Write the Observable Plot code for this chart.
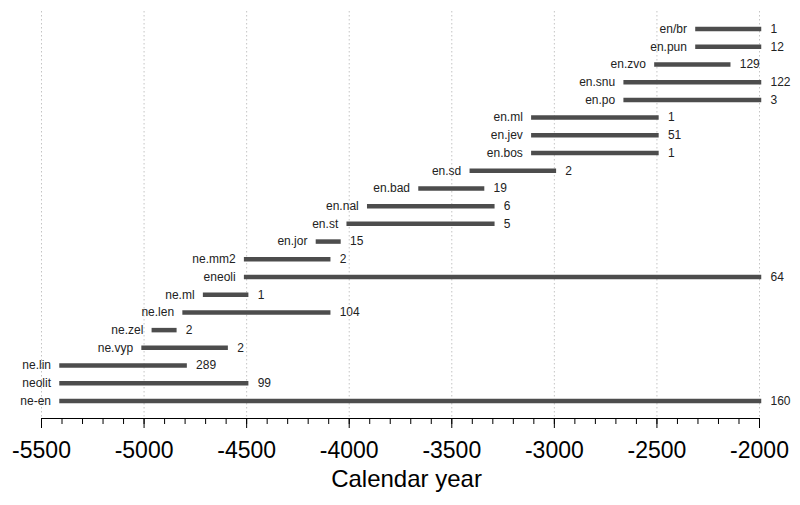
<!DOCTYPE html>
<html>
<head>
<meta charset="utf-8">
<script src="https://cdn.jsdelivr.net/npm/d3@7"></script>
<script src="https://cdn.jsdelivr.net/npm/@observablehq/plot@0.6"></script>
<style>
  html, body { margin: 0; padding: 0; background: white; }
</style>
</head>
<body>
<div id="chart"></div>
<script>
const names = ["en/br","en.pun","en.zvo","en.snu","en.po","en.ml","en.jev","en.bos","en.sd","en.bad","en.nal","en.st","en.jor","ne.mm2","eneoli","ne.ml","ne.len","ne.zel","ne.vyp","ne.lin","neolit","ne-en"];
const starts = [-2300,-2300,-2500,-2650,-2650,-3100,-3100,-3100,-3400,-3650,-3900,-4000,-4150,-4500,-4500,-4700,-4800,-4950,-5000,-5400,-5400,-5400];
const ends = [-2000,-2000,-2150,-2000,-2000,-2500,-2500,-2500,-3000,-3350,-3300,-3300,-4050,-4100,-2000,-4500,-4100,-4850,-4600,-4800,-4500,-2000];
const counts = [1,12,129,122,3,1,51,1,2,19,6,5,15,2,64,1,104,2,2,289,99,160];
const majorTicks = [-5500,-5000,-4500,-4000,-3500,-3000,-2500,-2000];
const minorTicks = d3.range(-5500, -1999, 100);
const xLabel = "Calendar year";

const data = names.map((name, i) => ({name, start: starts[i], end: ends[i], n: counts[i]}));

const chart = Plot.plot({
  width: 800,
  height: 505,
  marginLeft: 41,
  marginRight: 41,
  marginTop: 11,
  marginBottom: 87,
  style: {fontFamily: "'Liberation Sans', Arial, sans-serif", background: "white", color: "black"},
  x: {domain: [-5500, -2000]},
  y: {type: "point", domain: names, padding: 0.99, round: false, axis: null},
  marks: [
    Plot.ruleX(majorTicks, {stroke: "#c4c4c4", strokeDasharray: "1.5,2.5", strokeWidth: 1}),
    Plot.ruleY(data, {y: "name", x1: "start", x2: "end", stroke: "#4d4d4d", strokeWidth: 4.5, strokeLinecap: "square"}),
    Plot.text(data, {x: "start", y: "name", text: "name", textAnchor: "end", dx: -11, fontSize: 12, fill: "#222"}),
    Plot.text(data, {x: "end", y: "name", text: d => String(d.n), textAnchor: "start", dx: 11, fontSize: 12, fill: "#222"}),
    Plot.frame({anchor: "bottom", stroke: "black"}),
    Plot.axisX(minorTicks, {tickSize: 6, tickFormat: () => "", stroke: "black", label: null}),
    Plot.axisX(majorTicks, {tickSize: 10, tickPadding: 13, fontSize: 23, tickFormat: d => String(d), stroke: "black", fill: "black", label: null}),
    Plot.text([xLabel], {frameAnchor: "bottom", text: d => d, dy: 68, dx: 6, fontSize: 24, fill: "black"})
  ]
});
document.getElementById("chart").appendChild(chart);
</script>
</body>
</html>
